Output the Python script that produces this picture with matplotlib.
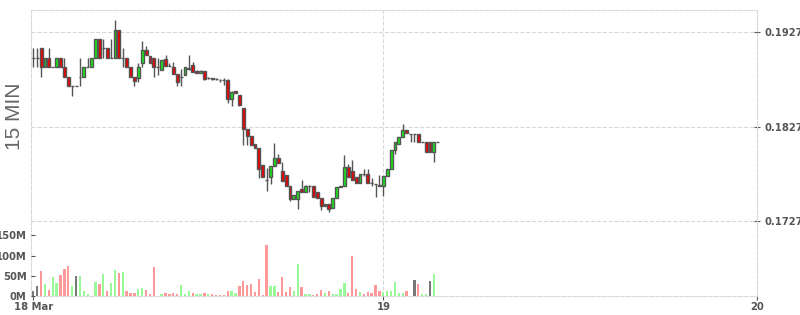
import matplotlib
matplotlib.use("Agg")
import matplotlib.pyplot as plt
import matplotlib.dates as mdates
import numpy as np
import pandas as pd

# 15 min candles, 18 Mar 01:30 -> 19 Mar 03:30
opens = [.1900, .1900, .1910, .1890, .1900, .1890, .1890, .1900, .1890, .1880,
         .1870, .1870, .1880, .1880, .1890, .1890, .1900, .1920, .1910, .1910,
         .1900, .1900, .1930, .1900, .1900, .1890, .1880, .1879, .1895, .1908,
         .1902, .1900, .1890, .1887, .1899, .1891, .1890, .1883, .1880, .1882,
         .1888, .1892, .1886, .1884, .1886, .1879, .1879, .1878, .1877, .1877,
         .1877, .1857, .1865, .1861, .1847, .1825, .1817, .1809, .1805, .1787,
         .1771, .1774, .1786, .1794, .1780, .1776, .1765, .1751, .1751, .1761,
         .1758, .1764, .1764, .1758, .1752, .1743, .1745, .1741, .1752, .1763,
         .1765, .1785, .1780, .1774, .1768, .1777, .1777, .1768, .1767, .1766,
         .1765, .1775, .1782, .1803, .1809, .1816, .1824, .1820, .1820, .1820,
         .1811, .1811, .1811, .1800, .1811]
highs = [.1910, .1910, .1910, .1900, .1910, .1890, .1900, .1900, .1900, .1880,
         .1870, .1870, .1900, .1890, .1900, .1900, .1920, .1920, .1920, .1910,
         .1920, .1940, .1930, .1910, .1900, .1890, .1880, .1895, .1918, .1913,
         .1902, .1900, .1900, .1898, .1903, .1895, .1896, .1883, .1888, .1890,
         .1903, .1896, .1887, .1887, .1886, .1880, .1879, .1879, .1878, .1879,
         .1878, .1865, .1865, .1861, .1847, .1825, .1817, .1809, .1805, .1787,
         .1784, .1786, .1810, .1798, .1790, .1776, .1765, .1755, .1759, .1771,
         .1766, .1766, .1764, .1758, .1752, .1745, .1745, .1752, .1763, .1765,
         .1797, .1788, .1792, .1774, .1777, .1783, .1783, .1773, .1767, .1776,
         .1775, .1782, .1803, .1811, .1816, .1830, .1824, .1820, .1820, .1820,
         .1811, .1811, .1811, .1811, .1811]
lows = [.1890, .1890, .1880, .1890, .1890, .1890, .1890, .1890, .1880, .1870,
        .1860, .1870, .1870, .1880, .1890, .1890, .1900, .1900, .1900, .1900,
        .1900, .1900, .1900, .1890, .1890, .1880, .1870, .1875, .1890, .1903,
        .1895, .1880, .1882, .1887, .1891, .1891, .1883, .1870, .1870, .1882,
        .1887, .1885, .1884, .1884, .1877, .1878, .1877, .1877, .1875, .1871,
        .1852, .1849, .1863, .1849, .1808, .1808, .1808, .1805, .1773, .1774,
        .1759, .1767, .1786, .1789, .1770, .1765, .1749, .1751, .1740, .1758,
        .1758, .1758, .1753, .1752, .1739, .1743, .1737, .1741, .1752, .1763,
        .1765, .1774, .1771, .1768, .1768, .1775, .1768, .1764, .1753, .1765,
        .1754, .1775, .1782, .1798, .1809, .1816, .1821, .1811, .1811, .1811,
        .1811, .1800, .1800, .1790, .1811]
closes = [.1900, .1900, .1890, .1900, .1890, .1890, .1900, .1890, .1880, .1870,
          .1870, .1870, .1880, .1890, .1890, .1900, .1920, .1900, .1910, .1900,
          .1900, .1930, .1900, .1900, .1890, .1880, .1876, .1890, .1908, .1903,
          .1895, .1890, .1890, .1898, .1891, .1891, .1883, .1875, .1880, .1890,
          .1889, .1885, .1884, .1886, .1878, .1879, .1878, .1878, .1877, .1877,
          .1857, .1864, .1863, .1850, .1825, .1817, .1808, .1805, .1782, .1774,
          .1771, .1786, .1794, .1789, .1770, .1765, .1751, .1755, .1759, .1758,
          .1765, .1764, .1753, .1752, .1743, .1745, .1740, .1752, .1763, .1765,
          .1785, .1774, .1771, .1768, .1777, .1777, .1768, .1768, .1767, .1765,
          .1775, .1782, .1803, .1811, .1816, .1824, .1821, .1820, .1820, .1811,
          .1811, .1800, .1800, .1811, .1811]

# volume in millions, colour code per bar (g up, r down, n flat)
volumes = [12, 25, 61, 30, 15, 47, 32, 52, 66, 74,
           25, 49, 49, 12, 5, 1, 34, 30, 54, 12,
           32, 64, 57, 59, 12, 7, 7, 17, 20, 15,
           5, 71, 1, 5, 7, 5, 7, 5, 27, 5,
           12, 7, 5, 5, 7, 5, 5, 2, 2, 2,
           12, 12, 7, 25, 37, 27, 30, 10, 42, 3,
           125, 25, 25, 10, 47, 10, 22, 12, 79, 22,
           5, 5, 3, 5, 15, 7, 12, 5, 5, 17,
           32, 7, 100, 17, 10, 5, 10, 7, 27, 12,
           10, 12, 12, 34, 7, 7, 12, 1, 39, 30,
           5, 5, 37, 54, 1]
vol_dir = ("nnrgrggrrr" "gngggggrgr" "ggrgrrrggr" "rrrgrrrrgg" "grggrgrrrr"
           "rggrrrrrrr" "rggrrrrggr" "ggrrrgrggg" "grrrgrrrrr" "ggggggrgnr" "ggngg")

price_ticks = [0.1727, 0.1827, 0.1927]
vol_ticks = [0, 50, 100, 150]
vol_labels = ["0M", "50M", "100M", "150M"]

times = pd.date_range("2024-03-18 01:30", periods=len(opens), freq="15min")
x = mdates.date2num(times.to_pydatetime())
o = np.array(opens)
c = np.array(closes)

plt.rcParams["font.family"] = "DejaVu Sans"
plt.rcParams["font.weight"] = "bold"
grey = "#555555"
gridc = "#d8d8d8"

fig = plt.figure(figsize=(8, 3.15), dpi=100)
ax = fig.add_axes([30.7 / 800, 19 / 315, 726 / 800, 286 / 315])
axv = ax.twinx()

# candles
body_col = np.where(c > o, "#18e818", np.where(c < o, "#ee0000", grey))
w = 0.75 / 96
ax.vlines(x, lows, highs, color=grey, lw=1, zorder=3)
ax.bar(x, c - o, bottom=o, width=w, color=body_col, edgecolor=grey, linewidth=1, zorder=4)

x_left = mdates.date2num(pd.Timestamp("2024-03-18 01:20"))
d19 = mdates.date2num(pd.Timestamp("2024-03-19"))
d20 = mdates.date2num(pd.Timestamp("2024-03-20"))
ax.set_xlim(x_left, d20)
ax.set_ylim(0.16481, 0.19507)

ax.set_yticks(price_ticks)
ax.set_yticklabels([f"{t:.4f}" for t in price_ticks])
ax.tick_params(axis="y", left=False, labelleft=False, right=True, labelright=True,
               direction="inout", length=5, color=grey, labelcolor=grey,
               labelsize=7.2, pad=3)
ax.grid(axis="y", color=gridc, ls="--", lw=0.8)
ax.axvline(d19, color=gridc, ls="--", lw=0.8, zorder=0)

ax.set_xticks([x[0], d19, d20])
ax.set_xticklabels(["18 Mar", "19", "20"])
ax.tick_params(axis="x", length=3, color=grey, labelcolor=grey, labelsize=7.2, pad=1)

for s in ax.spines.values():
    s.set_linestyle("--")
    s.set_color(gridc)
    s.set_linewidth(0.8)

# volume
vcol = {"g": "#99f999", "r": "#ff9999", "n": "#777777"}
axv.bar(x, volumes, width=0.6 / 96, color=[vcol[d] for d in vol_dir], zorder=2)
axv.set_ylim(0, 707)
axv.set_yticks(vol_ticks)
axv.set_yticklabels(vol_labels)
axv.tick_params(axis="y", left=True, labelleft=True, right=False, labelright=False,
                direction="in", length=3, color=grey, labelcolor=grey,
                labelsize=7.2, pad=3)
for s in axv.spines.values():
    s.set_visible(False)

fig.text(15 / 800, 1 - 116 / 315, "15 MIN", rotation=90, ha="center", va="center",
         fontsize=15, fontweight="normal", family="Liberation Sans", color="#666666")

fig.savefig("out.png", dpi=100)
